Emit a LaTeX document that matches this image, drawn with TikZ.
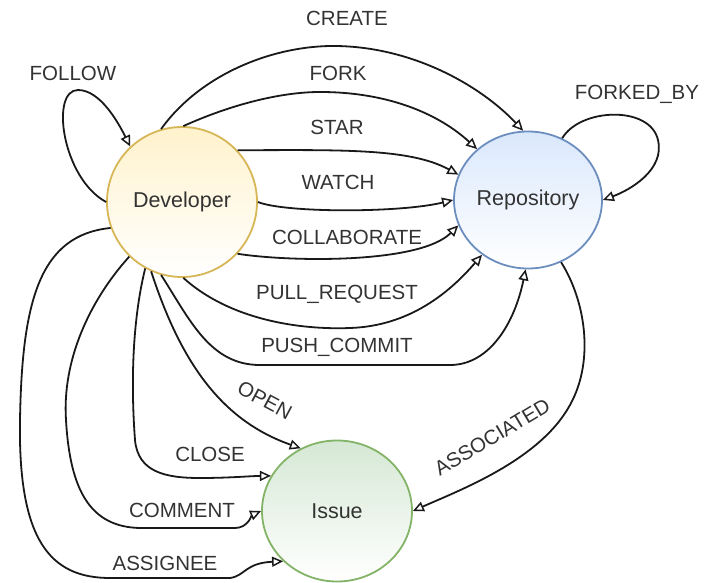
\documentclass[tikz,border=0pt]{standalone}
\usepackage{fontspec}
\setmainfont{Liberation Sans}
\usetikzlibrary{arrows.meta,shapes.geometric}
\definecolor{devfill}{HTML}{FFF2CC}
\definecolor{devline}{HTML}{D6B656}
\definecolor{repofill}{HTML}{DAE8FC}
\definecolor{repoline}{HTML}{6C8EBF}
\definecolor{issfill}{HTML}{D5E8D4}
\definecolor{issline}{HTML}{82B366}
\definecolor{txt}{HTML}{333333}
\tikzset{
  entity/.style={ellipse, line width=1.8pt, text=txt, inner sep=0pt,
    font=\fontsize{21.5}{24}\selectfont},
  rel/.style={line width=1.8pt, draw=black!90,
    -{Triangle[open,length=11pt,width=10pt,line width=1.5pt]}},
  lbl/.style={text=txt, inner sep=0pt, text height=14.7pt, text depth=0pt,
    font=\fontsize{20.5}{23}\selectfont},
}
\begin{document}
\begin{tikzpicture}[x=1pt,y=-1pt]
\useasboundingbox (0,0) rectangle (718,583);

% entities
\node[entity, draw=devline, top color=devfill, bottom color=white,
      minimum width=150pt, minimum height=150pt] (dev) at (182,202) {Developer};
\node[entity, draw=repoline, top color=repofill, bottom color=white,
      minimum width=148pt, minimum height=137pt] (repo) at (528,200) {Repository};
\node[entity, draw=issline, top color=issfill, bottom color=white,
      minimum width=150pt, minimum height=141pt] (iss) at (337,511) {Issue};

% relations Developer -> Repository
\draw[rel] (dev.180) .. controls (62,178) and (50,90) .. (78,90)
           .. controls (100,90) and (118,122) .. (dev.133);
\draw[rel] (dev.106) .. controls (200,75) and (270,47) .. (330,46)
           .. controls (410,45) and (480,85) .. (repo.94);
\draw[rel] (dev.89) .. controls (230,105) and (280,92) .. (320,92)
           .. controls (390,92) and (440,115) .. (repo.135);
\draw[rel] (dev.43) .. controls (340,150) and (410,148) .. (repo.160);
\draw[rel] (dev.0) .. controls (285,213) and (400,213) .. (repo.180);
\draw[rel] (dev.-43) .. controls (290,262) and (420,264) .. (repo.200);
\draw[rel] (dev.-89) .. controls (230,320) and (300,330) .. (350,328)
           .. controls (410,326) and (450,292) .. (repo.230);
\draw[rel] (dev.-106) .. controls (190,320) and (210,365) .. (260,365)
           -- (450,365) .. controls (490,365) and (515,322) .. (repo.268);

% relations Developer -> Issue
\draw[rel] (dev.-114) .. controls (180,360) and (220,420) .. (iss.120);
\draw[rel] (dev.-119) .. controls (130,330) and (132,400) .. (135,440)
           .. controls (138,472) and (165,478) .. (200,478)
           .. controls (230,478) and (250,476) .. (iss.152);
\draw[rel] (dev.-134) .. controls (90,300) and (62,360) .. (66,420)
           .. controls (70,490) and (90,527) .. (140,528)
           -- (235,528) .. controls (248,528) and (252,515) .. (iss.180);
\draw[rel] (dev.-160) .. controls (40,235) and (22,300) .. (20,420)
           .. controls (18,540) and (50,578) .. (110,578)
           -- (230,578) .. controls (245,576) and (245,563) .. (iss.223);

% relations from Repository
\draw[rel] (repo.298) .. controls (585,300) and (595,360) .. (570,405)
           .. controls (540,460) and (460,490) .. (iss.0);
\draw[rel] (repo.61) .. controls (580,108) and (650,105) .. (658,140)
           .. controls (665,170) and (630,190) .. (repo.0);

% relation names
\node[lbl] (lfollow) at (73,73) {FOLLOW};
\node[lbl] (lcreate) at (347,18) {CREATE};
\node[lbl] (lfork) at (338,73) {FORK};
\node[lbl] (lstar) at (337,127) {STAR};
\node[lbl] (lwatch) at (338,182) {WATCH};
\node[lbl] (lcollab) at (347,237) {COLLABORATE};
\node[lbl] (lpull) at (337,292) {PULL\_REQUEST};
\node[lbl] (lpush) at (337,345) {PUSH\_COMMIT};
\node[lbl, rotate=-28] (lopen) at (265,400) {OPEN};
\node[lbl] (lclose) at (210,454) {CLOSE};
\node[lbl] (lcomment) at (182,510) {COMMENT};
\node[lbl] (lassignee) at (165,563) {ASSIGNEE};
\node[lbl, rotate=31] (lassoc) at (492,437) {ASSOCIATED};
\node[lbl] (lforked) at (637,92) {FORKED\_BY};
\end{tikzpicture}
\end{document}
